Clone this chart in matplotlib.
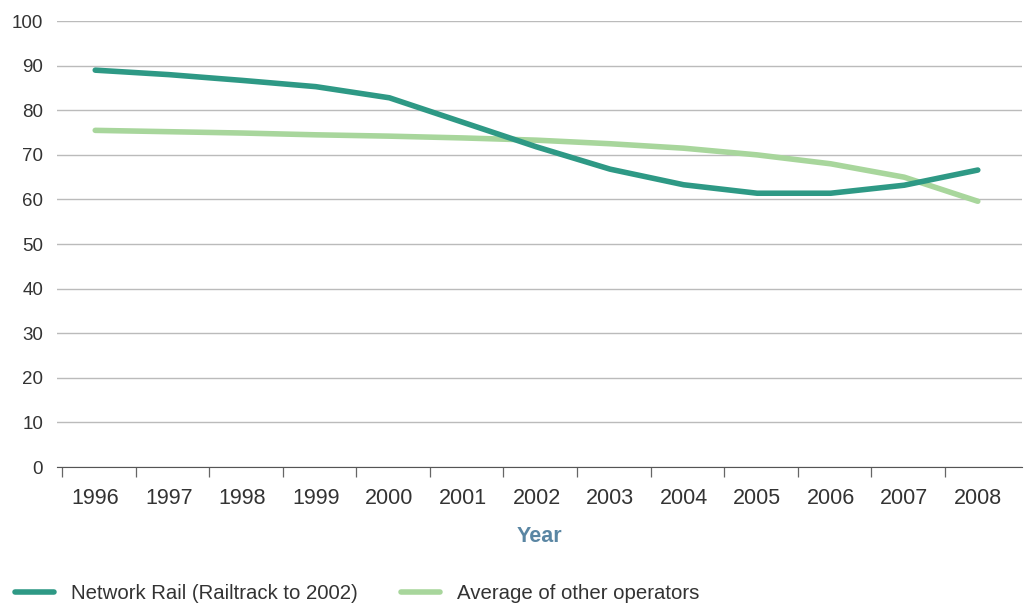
import numpy as np
import matplotlib.pyplot as plt

years = ['1996', '1997', '1998', '1999', '2000', '2001', '2002',
         '2003', '2004', '2005', '2006', '2007', '2008']
network_rail = [89.0, 88.0, 86.7, 85.3, 82.8, 77.3, 71.8,
                66.8, 63.3, 61.4, 61.4, 63.2, 66.6]
other_operators = [75.5, 75.2, 74.9, 74.5, 74.2, 73.8, 73.3,
                   72.5, 71.5, 70.0, 68.0, 65.0, 59.6]

plt.rcParams['font.family'] = ['Liberation Sans', 'DejaVu Sans']
text_col = '#333333'

fig = plt.figure(figsize=(10.25, 6.03), dpi=100)
ax = fig.add_axes([0.0556, 0.2255, 0.9414, 0.7395])

x = np.arange(len(years))
ax.plot(x, network_rail, color='#2e9985', lw=4, solid_capstyle='round',
        label='Network Rail (Railtrack to 2002)', zorder=3)
ax.plot(x, other_operators, color='#a8d69c', lw=4, solid_capstyle='round',
        label='Average of other operators', zorder=2)

ax.set_ylim(0, 100)
ax.set_yticks(range(0, 101, 10))
ax.set_xlim(-0.52, 12.6)
ax.set_xticks(x)
ax.set_xticklabels(years)
ax.set_xticks(np.arange(-0.45, 12.5, 1.0), minor=True)
ax.tick_params(axis='x', which='major', length=0, pad=15, labelsize=15.5, colors=text_col)
ax.tick_params(axis='x', which='minor', length=7, width=0.9, direction='out', color='#666666')
ax.tick_params(axis='y', length=0, pad=10, labelsize=13.5, colors=text_col)

ax.grid(axis='y', color='#bbbbbb', lw=1)
ax.set_axisbelow(True)
for s in ['left', 'right', 'top']:
    ax.spines[s].set_visible(False)
ax.spines['bottom'].set_color('#555555')

ax.set_xlabel('Year', fontsize=15.5, fontweight='bold', color='#5a86a3', labelpad=12)

leg = fig.legend(loc='center left', bbox_to_anchor=(0.0146, 0.016), ncol=2, frameon=False,
                 fontsize=14.7, handlelength=1.9, columnspacing=2.1, handletextpad=0.85,
                 borderpad=0, borderaxespad=0)
for t in leg.get_texts():
    t.set_color(text_col)

fig.savefig('out.png', dpi=100)
